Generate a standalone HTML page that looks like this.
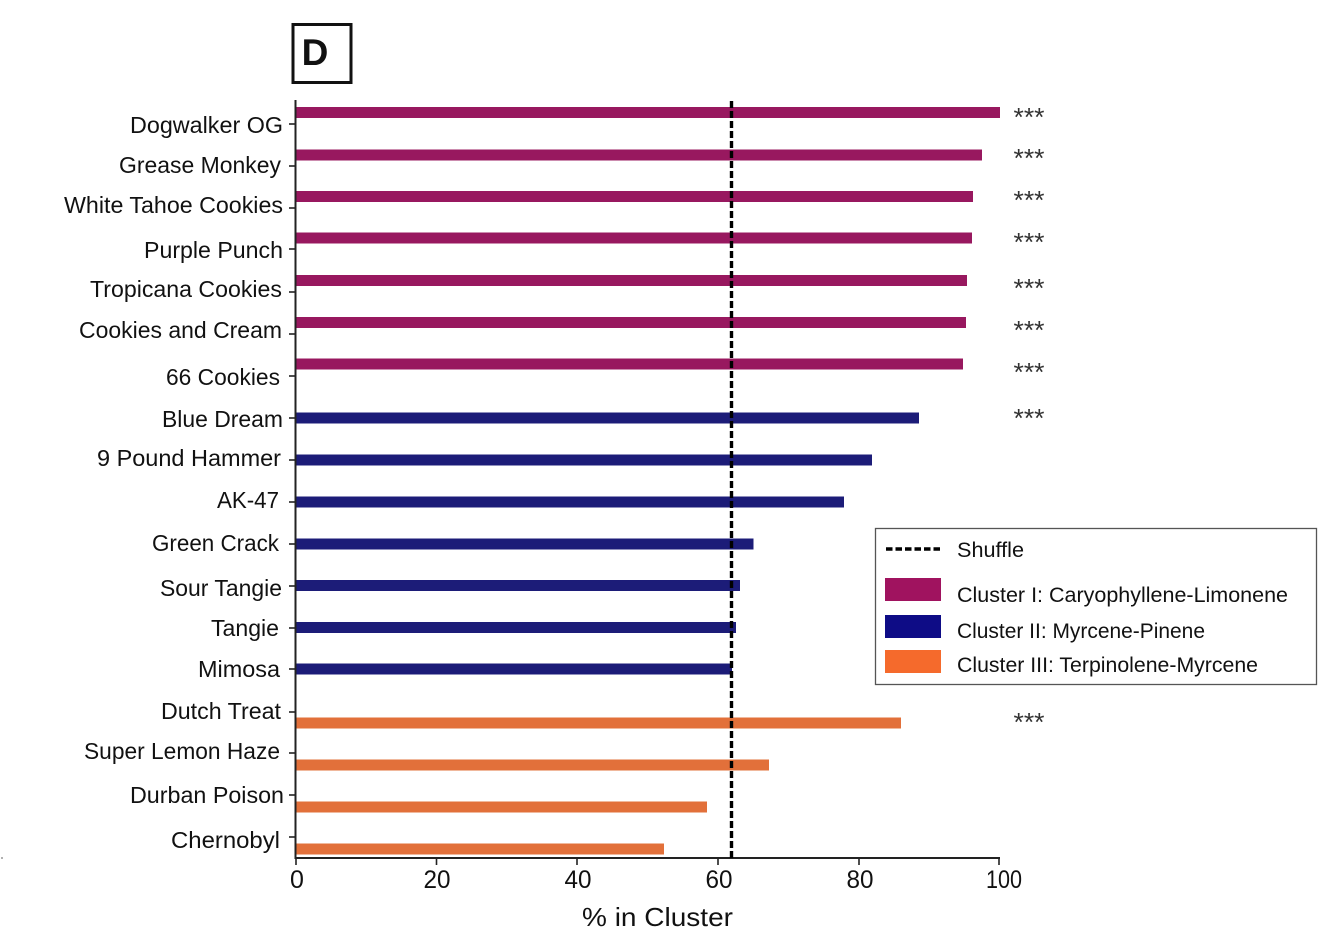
<!DOCTYPE html>
<html>
<head>
<meta charset="utf-8">
<style>
html,body{margin:0;padding:0;background:#fff;}
svg{display:block;}
text{font-family:"Liberation Sans",sans-serif;fill:#111;}
</style>
</head>
<body>
<svg width="1318" height="929" viewBox="0 0 1318 929" xmlns="http://www.w3.org/2000/svg">
<rect x="0" y="0" width="1318" height="929" fill="#fff"/>

<!-- Panel label -->
<rect x="293" y="24.5" width="58" height="58" fill="none" stroke="#111" stroke-width="3"/>
<text x="315" y="65" font-size="37" font-weight="bold" text-anchor="middle">D</text>

<!-- Bars: Cluster I -->
<g fill="#98185f">
<rect x="296" y="107" width="704" height="11"/>
<rect x="296" y="149.5" width="686" height="11"/>
<rect x="296" y="191" width="677" height="11"/>
<rect x="296" y="232.5" width="676" height="11"/>
<rect x="296" y="275" width="671" height="11"/>
<rect x="296" y="317" width="670" height="11"/>
<rect x="296" y="358.5" width="667" height="11"/>
</g>
<!-- Cluster II -->
<g fill="#1c1c78">
<rect x="296" y="412.5" width="623" height="11"/>
<rect x="296" y="454.5" width="576" height="11"/>
<rect x="296" y="496.5" width="548" height="11"/>
<rect x="296" y="538.5" width="457.5" height="11"/>
<rect x="296" y="580" width="444" height="11"/>
<rect x="296" y="622" width="440" height="11"/>
<rect x="296" y="663.5" width="436" height="11"/>
</g>
<!-- Cluster III -->
<g fill="#e2703a">
<rect x="296" y="717.5" width="605" height="11"/>
<rect x="296" y="759.5" width="473" height="11"/>
<rect x="296" y="801.5" width="411" height="11"/>
<rect x="296" y="843.5" width="368" height="11"/>
</g>

<!-- Axes -->
<line x1="295.5" y1="100" x2="295.5" y2="859" stroke="#222" stroke-width="2"/>
<line x1="295" y1="858" x2="1000" y2="858" stroke="#222" stroke-width="2"/>
<g stroke="#222" stroke-width="1.6">
<line x1="289" y1="124" x2="295" y2="124"/>
<line x1="289" y1="166" x2="295" y2="166"/>
<line x1="289" y1="208" x2="295" y2="208"/>
<line x1="289" y1="249" x2="295" y2="249"/>
<line x1="289" y1="292" x2="295" y2="292"/>
<line x1="289" y1="334" x2="295" y2="334"/>
<line x1="289" y1="376" x2="295" y2="376"/>
<line x1="289" y1="418" x2="295" y2="418"/>
<line x1="289" y1="460" x2="295" y2="460"/>
<line x1="289" y1="502" x2="295" y2="502"/>
<line x1="289" y1="544" x2="295" y2="544"/>
<line x1="289" y1="586" x2="295" y2="586"/>
<line x1="289" y1="628" x2="295" y2="628"/>
<line x1="289" y1="669" x2="295" y2="669"/>
<line x1="289" y1="712" x2="295" y2="712"/>
<line x1="289" y1="753" x2="295" y2="753"/>
<line x1="289" y1="795" x2="295" y2="795"/>
<line x1="289" y1="837" x2="295" y2="837"/>
<line x1="296" y1="858" x2="296" y2="865"/>
<line x1="436.5" y1="858" x2="436.5" y2="865"/>
<line x1="577" y1="858" x2="577" y2="865"/>
<line x1="718" y1="858" x2="718" y2="865"/>
<line x1="859" y1="858" x2="859" y2="865"/>
<line x1="999" y1="858" x2="999" y2="865"/>
</g>

<!-- Shuffle dashed line -->
<line x1="731.5" y1="101" x2="731.5" y2="858" stroke="#000" stroke-width="3.4" stroke-dasharray="7,3"/>

<!-- Y labels -->
<g font-size="23" text-anchor="end">
<text x="283" y="133" textLength="153" lengthAdjust="spacingAndGlyphs">Dogwalker OG</text>
<text x="281" y="173" textLength="162" lengthAdjust="spacingAndGlyphs">Grease Monkey</text>
<text x="283" y="213" textLength="219" lengthAdjust="spacingAndGlyphs">White Tahoe Cookies</text>
<text x="283" y="258" textLength="139" lengthAdjust="spacingAndGlyphs">Purple Punch</text>
<text x="282" y="297" textLength="192" lengthAdjust="spacingAndGlyphs">Tropicana Cookies</text>
<text x="282" y="338" textLength="203" lengthAdjust="spacingAndGlyphs">Cookies and Cream</text>
<text x="280" y="385" textLength="114" lengthAdjust="spacingAndGlyphs">66 Cookies</text>
<text x="283" y="427" textLength="121" lengthAdjust="spacingAndGlyphs">Blue Dream</text>
<text x="281" y="466" textLength="184" lengthAdjust="spacingAndGlyphs">9 Pound Hammer</text>
<text x="279" y="508" textLength="62" lengthAdjust="spacingAndGlyphs">AK-47</text>
<text x="279" y="551" textLength="127" lengthAdjust="spacingAndGlyphs">Green Crack</text>
<text x="282" y="596" textLength="122" lengthAdjust="spacingAndGlyphs">Sour Tangie</text>
<text x="279" y="636" textLength="68" lengthAdjust="spacingAndGlyphs">Tangie</text>
<text x="280" y="677" textLength="82" lengthAdjust="spacingAndGlyphs">Mimosa</text>
<text x="281" y="719" textLength="120" lengthAdjust="spacingAndGlyphs">Dutch Treat</text>
<text x="280" y="759" textLength="196" lengthAdjust="spacingAndGlyphs">Super Lemon Haze</text>
<text x="284" y="803" textLength="154" lengthAdjust="spacingAndGlyphs">Durban Poison</text>
<text x="280" y="848" textLength="109" lengthAdjust="spacingAndGlyphs">Chernobyl</text>
</g>

<!-- X tick labels -->
<g font-size="25" text-anchor="middle">
<text x="297" y="888">0</text>
<text x="437" y="888" textLength="27" lengthAdjust="spacingAndGlyphs">20</text>
<text x="578" y="888" textLength="27" lengthAdjust="spacingAndGlyphs">40</text>
<text x="719" y="888" textLength="27" lengthAdjust="spacingAndGlyphs">60</text>
<text x="860" y="888" textLength="27" lengthAdjust="spacingAndGlyphs">80</text>
<text x="1004" y="888" textLength="36" lengthAdjust="spacingAndGlyphs">100</text>
</g>
<text x="657.5" y="926" font-size="26" text-anchor="middle" textLength="151" lengthAdjust="spacingAndGlyphs">% in Cluster</text>

<!-- Significance stars -->
<g font-size="26" text-anchor="middle">
<text x="1029" y="126" style="fill:#333" textLength="31" lengthAdjust="spacingAndGlyphs">***</text>
<text x="1029" y="167" style="fill:#333" textLength="31" lengthAdjust="spacingAndGlyphs">***</text>
<text x="1029" y="209" style="fill:#333" textLength="31" lengthAdjust="spacingAndGlyphs">***</text>
<text x="1029" y="251" style="fill:#333" textLength="31" lengthAdjust="spacingAndGlyphs">***</text>
<text x="1029" y="297" style="fill:#333" textLength="31" lengthAdjust="spacingAndGlyphs">***</text>
<text x="1029" y="339" style="fill:#333" textLength="31" lengthAdjust="spacingAndGlyphs">***</text>
<text x="1029" y="381" style="fill:#333" textLength="31" lengthAdjust="spacingAndGlyphs">***</text>
<text x="1029" y="427" style="fill:#333" textLength="31" lengthAdjust="spacingAndGlyphs">***</text>
<text x="1029" y="731" style="fill:#333" textLength="31" lengthAdjust="spacingAndGlyphs">***</text>
</g>

<!-- Legend -->
<rect x="875.5" y="528.5" width="441" height="156" fill="#fff" stroke="#555" stroke-width="1.3"/>
<line x1="886" y1="549" x2="942" y2="549" stroke="#000" stroke-width="3.4" stroke-dasharray="6.5,3"/>
<text x="957" y="557" font-size="21" textLength="67" lengthAdjust="spacingAndGlyphs">Shuffle</text>
<rect x="885" y="578" width="56" height="23" fill="#a0135f"/>
<text x="957" y="602" font-size="21" textLength="331" lengthAdjust="spacingAndGlyphs">Cluster I: Caryophyllene-Limonene</text>
<rect x="885" y="615" width="56" height="23" fill="#0e0c86"/>
<text x="957" y="638" font-size="21" textLength="248" lengthAdjust="spacingAndGlyphs">Cluster II: Myrcene-Pinene</text>
<rect x="885" y="650" width="56" height="23" fill="#f56a2c"/>
<text x="957" y="672" font-size="21" textLength="301" lengthAdjust="spacingAndGlyphs">Cluster III: Terpinolene-Myrcene</text>

<circle cx="2" cy="858" r="1" fill="#999"/>
</svg>
</body>
</html>
